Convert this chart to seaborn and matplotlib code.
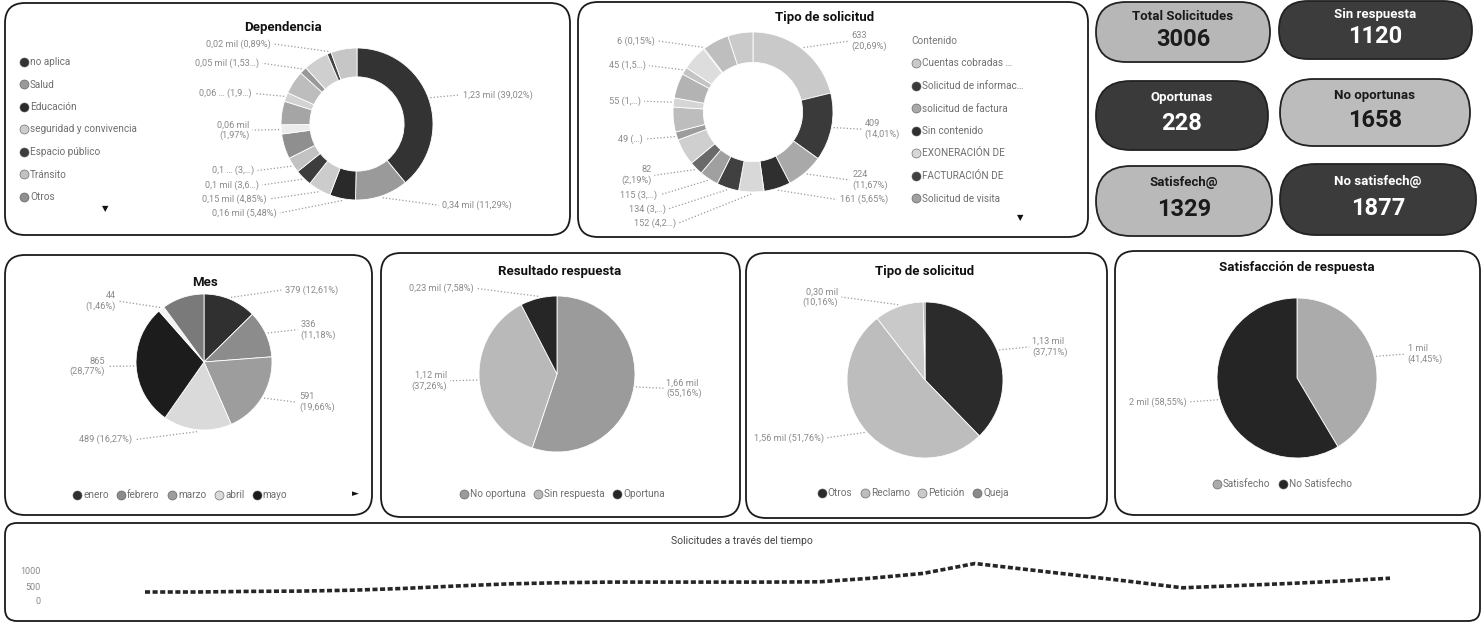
import matplotlib
matplotlib.use("Agg")
import matplotlib.pyplot as plt
from matplotlib.patches import FancyBboxPatch
from matplotlib.lines import Line2D
import numpy as np
import pandas as pd
import seaborn as sns

# ------------------------------------------------------------------ data
kpi_titles = ["Total Solicitudes", "Sin respuesta", "Oportunas",
              "No oportunas", "Satisfech@", "No satisfech@"]
kpi_values = [3006, 1120, 228, 1658, 1329, 1877]

dep_cats = ["no aplica", "Salud", "Educación", "seguridad y convivencia",
            "Espacio público", "Tránsito", "Otros", "Hacienda", "Ambiente",
            "Cultura", "Gobierno", "Planeación", "Deporte", "Vivienda",
            "Desarrollo social"]
dep_values = [1173, 339, 165, 146, 108, 99, 160, 59, 150, 57, 150, 46, 160, 27, 166]
dep_labels = ["1,23 mil (39,02%)", "0,34 mil (11,29%)", "0,16 mil (5,48%)",
              "0,15 mil (4,85%)", "0,1 mil (3,6…)", "0,1 … (3,…)", None,
              "0,06 mil\n(1,97%)", None, "0,06 … (1,9…)", None,
              "0,05 mil (1,53…)", None, "0,02 mil (0,89%)", None]

tipo_cats = ["Cuentas cobradas …", "Solicitud de informac…", "solicitud de factura",
             "Sin contenido", "EXONERACIÓN DE", "FACTURACIÓN DE",
             "Solicitud de visita", "Reconexión", "Cambio de medidor",
             "Revisión de lectura", "Daño en red", "Traslado", "Paz y salvo",
             "Suspensión", "Cambio de titular", "Duplicado", "Otros", "Varios"]
tipo_values = [633, 409, 224, 161, 152, 134, 115, 82, 160, 49, 150, 55, 150, 45, 150, 6, 160, 151]
tipo_labels = ["633\n(20,69%)", "409\n(14,01%)", "224\n(11,67%)", "161 (5,65%)",
               "152 (4,2…)", "134 (3,…)", "115 (3,…)", "82\n(2,19%)", None,
               "49 (…)", None, "55 (1,…)", None, "45 (1,5…)", None,
               "6 (0,15%)", None, None]

mes_cats = ["enero", "febrero", "marzo", "abril", "mayo", "junio", "julio"]
mes_values = [379, 336, 591, 489, 865, 44, 302]
mes_labels = ["379 (12,61%)", "336\n(11,18%)", "591\n(19,66%)", "489 (16,27%)",
              "865\n(28,77%)", "44\n(1,46%)", None]

res_cats = ["No oportuna", "Sin respuesta", "Oportuna"]
res_values = [1658, 1120, 228]
res_labels = ["1,66 mil\n(55,16%)", "1,12 mil\n(37,26%)", "0,23 mil (7,58%)"]

tsol_cats = ["Otros", "Reclamo", "Petición", "Queja"]
tsol_values = [1134, 1556, 305, 11]
tsol_labels = ["1,13 mil\n(37,71%)", "1,56 mil (51,76%)", "0,30 mil\n(10,16%)", None]

sat_cats = ["Satisfecho", "No Satisfecho"]
sat_values = [1329, 1877]
sat_labels = ["1 mil\n(41,45%)", "2 mil (58,55%)"]

ts_values = [300, 300, 320, 330, 360, 420, 500, 570, 610, 630, 630, 630, 630,
             640, 760, 920, 1250, 1050, 850, 650, 440, 510, 580, 660, 760]
ts_ticks = [0, 500, 1000]

# ------------------------------------------------------------------ styles
dep_colors = ["#333333", "#9a9a9a", "#2a2a2a", "#cccccc", "#3d3d3d", "#c2c2c2",
              "#8f8f8f", "#ececec", "#a5a5a5", "#d2d2d2", "#bdbdbd", "#999999",
              "#cfcfcf", "#454545", "#c6c6c6"]
tipo_colors = ["#c9c9c9", "#3a3a3a", "#a9a9a9", "#2f2f2f", "#d8d8d8", "#404040",
               "#a0a0a0", "#6a6a6a", "#cfcfcf", "#9c9c9c", "#bdbdbd", "#d5d5d5",
               "#b3b3b3", "#c4c4c4", "#dddddd", "#3d3d3d", "#bebebe", "#cacaca"]
mes_colors = ["#303030", "#8c8c8c", "#9d9d9d", "#dadada", "#1c1c1c", "#f2f2f2", "#7a7a7a"]
res_colors = ["#9b9b9b", "#b9b9b9", "#262626"]
tsol_colors = ["#2b2b2b", "#bdbdbd", "#c9c9c9", "#8a8a8a"]
sat_colors = ["#ababab", "#252525"]
kpi_fill = ["#b7b7b7", "#3c3c3c", "#3a3a3a", "#bcbcbc", "#b9b9b9", "#3b3b3b"]
kpi_text = ["#1a1a1a", "white", "white", "#1a1a1a", "#1a1a1a", "white"]
LABEL_C = "#8a8a8a"

sns.set_theme(style="white")
plt.rcParams["font.family"] = ["Roboto", "DejaVu Sans"]

W, H = 1484, 625
fig = plt.figure(figsize=(W / 100, H / 100), dpi=100)
fig.patch.set_facecolor("white")
bg = fig.add_axes([0, 0, 1, 1])


def card(x0, y0, x1, y1, rad=20, fc="white", ec="#1a1a1a", lw=1.3):
    p = FancyBboxPatch((x0 + rad, y0 + rad), (x1 - x0) - 2 * rad, (y1 - y0) - 2 * rad,
                       boxstyle=f"round,pad={rad}", fc=fc, ec=ec, lw=lw, zorder=1)
    bg.add_patch(p)


def txt(x, y, s, **kw):
    kw.setdefault("ha", "center")
    kw.setdefault("va", "center")
    bg.text(x, y, s, zorder=6, **kw)


def draw_pie(cx, cy, r, values, colors, labels, donut=False, fs=6.6):
    wp = dict(edgecolor="white", linewidth=0.6)
    if donut:
        wp["width"] = r * 0.38
    bg.pie(values, colors=colors, center=(cx, cy), radius=r, startangle=-90,
           counterclock=True, wedgeprops=wp, frame=True)
    total = float(sum(values))
    cum = 0.0
    items = []
    for v, lab in zip(values, labels):
        mid = (cum + v / 2) / total * 2 * np.pi
        cum += v
        if lab is None:
            continue
        s, c = np.sin(mid), np.cos(mid)
        side = 1 if s >= 0 else -1
        ty = cy - (r + 10) * c
        items.append([side, ty, cx + (r + 2) * s, cy - (r + 2) * c, lab, s])
    lh = 11.0
    for side in (1, -1):
        grp = sorted([it for it in items if it[0] == side], key=lambda it: it[1])
        for i in range(1, len(grp)):
            h0 = (grp[i - 1][4].count("\n") + 1) * lh
            h1 = (grp[i][4].count("\n") + 1) * lh
            need = grp[i - 1][1] + (h0 + h1) / 2 + 3
            if grp[i][1] < need:
                grp[i][1] = need
        for side_, ty, px, py, lab, s in grp:
            tx = cx + side_ * (r * (0.6 + 0.45 * abs(s)) + 28)
            bg.plot([px, tx - side_ * 3], [py, ty], ls=":", lw=0.9, color="#9a9a9a", zorder=5)
            txt(tx, ty, lab, ha="left" if side_ > 0 else "right", fontsize=fs,
                color=LABEL_C, linespacing=1.15)


def legend_row(cats, colors, x, y, fs=7.2, ncol=None, vertical=False, title=None):
    handles = [Line2D([0], [0], marker="o", ls="", markersize=6.5,
                      markerfacecolor=c, markeredgecolor="#555555", markeredgewidth=0.4)
               for c in colors]
    if vertical:
        lg = fig.legend(handles, cats, loc="upper left", bbox_to_anchor=(x / W, 1 - y / H),
                        frameon=False, fontsize=fs, labelspacing=1.25, handletextpad=0.2,
                        handlelength=0.9, borderpad=0, title=title,
                        title_fontproperties={"size": fs})
        if title:
            lg._legend_box.align = "left"
            lg.get_title().set_color("#777777")
    else:
        lg = fig.legend(handles, cats, loc="center", bbox_to_anchor=(x / W, 1 - y / H),
                        frameon=False, fontsize=fs, ncol=ncol or len(cats),
                        handletextpad=0.15, columnspacing=0.8, handlelength=0.9,
                        borderpad=0)
    for t in lg.get_texts():
        t.set_color("#6f6f6f")
    return lg


# ------------------------------------------------------------------ cards
card(5, 3, 570, 235)
card(578, 2, 1088, 237)
card(5, 255, 372, 515)
card(381, 253, 740, 517)
card(746, 253, 1107, 518)
card(1115, 251, 1480, 515)
card(5, 523, 1480, 621, rad=12)

# KPI pills
kpi_boxes = [(1096, 2, 1270, 62), (1279, 1, 1472, 59), (1096, 81, 1268, 150),
             (1280, 79, 1470, 146), (1096, 166, 1272, 236), (1280, 164, 1476, 235)]
for (x0, y0, x1, y1), t, v, fc, tc in zip(kpi_boxes, kpi_titles, kpi_values, kpi_fill, kpi_text):
    rad = (y1 - y0) / 2
    p = FancyBboxPatch((x0 + rad, y0 + rad), (x1 - x0) - 2 * rad, 0.01,
                       boxstyle=f"round,pad={rad}", fc=fc, ec="#222222", lw=1.3, zorder=2)
    bg.add_patch(p)
    cxk = (x0 + x1) / 2
    txt(cxk, y0 + (y1 - y0) * 0.24, t, fontsize=9.5, fontweight="bold", color=tc)
    txt(cxk, y0 + (y1 - y0) * 0.62, str(v), fontsize=17, fontweight="bold", color=tc)

# ------------------------------------------------------------------ titles
txt(283, 27, "Dependencia", fontsize=9.5, fontweight="bold", color="#111111")
txt(825, 18, "Tipo de solicitud", fontsize=9.5, fontweight="bold", color="#111111")
txt(205, 282, "Mes", fontsize=9.5, fontweight="bold", color="#111111")
txt(560, 272, "Resultado respuesta", fontsize=9.5, fontweight="bold", color="#111111")
txt(925, 272, "Tipo de solicitud", fontsize=9.5, fontweight="bold", color="#111111")
txt(1297, 268, "Satisfacción de respuesta", fontsize=9.5, fontweight="bold", color="#111111")
txt(742, 541, "Solicitudes a través del tiempo", fontsize=7.5, color="#444444")
txt(105, 209, "▼", fontsize=6, color="#111111")
txt(1020, 218, "▼", fontsize=6, color="#111111")
txt(355, 494, "►", fontsize=6.5, color="#111111")

# ------------------------------------------------------------------ pies
draw_pie(357, 124, 76, dep_values, dep_colors, dep_labels, donut=True)
draw_pie(753, 112, 80, tipo_values, tipo_colors, tipo_labels, donut=True)
draw_pie(204, 362, 68, mes_values, mes_colors, mes_labels)
draw_pie(557, 374, 78, res_values, res_colors, res_labels)
draw_pie(925, 380, 78, tsol_values, tsol_colors, tsol_labels)
draw_pie(1297, 378, 80, sat_values, sat_colors, sat_labels)

bg.set_aspect("auto")
bg.set_xlim(0, W)
bg.set_ylim(H, 0)
bg.axis("off")

# ------------------------------------------------------------------ legends
legend_row(dep_cats[:7], dep_colors[:7], 14, 52, vertical=True)
legend_row(tipo_cats[:7], tipo_colors[:7], 906, 31, vertical=True, title="Contenido")
legend_row(mes_cats[:5], mes_colors[:5], 180, 495)
legend_row(res_cats, res_colors, 562, 494)
legend_row(tsol_cats, tsol_colors, 913, 493)
legend_row(sat_cats, sat_colors, 1282, 484)

# ------------------------------------------------------------------ line chart
n = len(ts_values)
df = pd.DataFrame({"periodo": np.arange(n), "solicitudes": ts_values})
lx0, lx1, ly0, ly1 = 60, 1470, 553, 607
ax = fig.add_axes([lx0 / W, 1 - ly1 / H, (lx1 - lx0) / W, (ly1 - ly0) / H])
sns.lineplot(data=df, x="periodo", y="solicitudes", ax=ax, color="#262626",
             linewidth=2.6, linestyle=(0, (1.4, 0.7)))
u = (1390 - 145) / (n - 1)
ax.set_xlim(-(145 - lx0) / u, (n - 1) + (lx1 - 1390) / u)
ax.set_ylim(-200, 1600)
ax.set_yticks(ts_ticks)
ax.set_yticklabels([str(t) for t in ts_ticks], fontsize=6.5, color="#8a8a8a")
ax.set_xticks([])
ax.set_xlabel("")
ax.set_ylabel("")
ax.tick_params(axis="y", length=0, pad=14)
for sp in ax.spines.values():
    sp.set_visible(False)
ax.patch.set_alpha(0)

fig.savefig("out.png", dpi=100, facecolor="white")
